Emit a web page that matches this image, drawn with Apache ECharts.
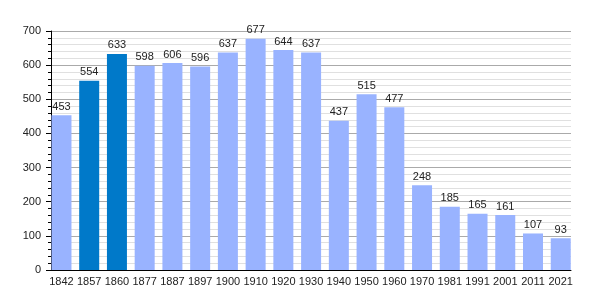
<!DOCTYPE html>
<html><head><meta charset="utf-8">
<script src="https://cdn.jsdelivr.net/npm/echarts@6/dist/echarts.min.js"></script>
<style>html,body{margin:0;padding:0;background:#fff}#c{width:600px;height:300px}</style>
</head><body><div id="c"></div>
<script>
const years = ['1842','1857','1860','1877','1887','1897','1900','1910','1920','1930','1940','1950','1960','1970','1981','1991','2001','2011','2021'];
const population = [453,554,633,598,606,596,637,677,644,637,437,515,477,248,185,165,161,107,93];
const highlighted = ['1857','1860'];
const yTicks = [0,100,200,300,400,500,600,700];

const font = 'Liberation Sans, Arial, sans-serif';
const chart = echarts.init(document.getElementById('c'));
chart.setOption({
  animation: false,
  grid: [
    {left: 47.6, right: 25.4, top: 31, bottom: 30},
    {left: 51, right: 29, top: 31, bottom: 30}
  ],
  xAxis: [{
    gridIndex: 0, type: 'category', data: years,
    axisLine: {show: false},
    axisTick: {show: false},
    splitLine: {show: false},
    axisLabel: {color: '#222', fontFamily: font, fontSize: 11, margin: 6, interval: 0}
  }, {
    gridIndex: 1, type: 'value', min: 0, max: 1,
    axisLine: {show: true, onZero: false, lineStyle: {color: '#000', width: 1}},
    axisTick: {show: false}, axisLabel: {show: false}, splitLine: {show: false}
  }],
  yAxis: [{
    gridIndex: 0, type: 'value', min: yTicks[0], max: yTicks[yTicks.length-1], interval: 100,
    show: false, splitLine: {show: false}
  }, {
    gridIndex: 1, type: 'value', min: yTicks[0], max: yTicks[yTicks.length-1], interval: 100,
    axisLine: {show: true, onZero: false, lineStyle: {color: '#000'}},
    axisTick: {show: true, length: 5, lineStyle: {color: '#000'}},
    minorTick: {show: true, splitNumber: 5, length: 3, lineStyle: {color: '#000'}},
    splitLine: {show: true, lineStyle: {color: '#aaaaaa', width: 1}},
    minorSplitLine: {show: true, lineStyle: {color: '#e0e0e0', width: 1}},
    axisLabel: {color: '#222', fontFamily: font, fontSize: 11, margin: 10}
  }],
  series: [{
    type: 'bar', xAxisIndex: 0, yAxisIndex: 0,
    data: population.map((v, i) => ({value: v, itemStyle: {color: highlighted.includes(years[i]) ? '#0079C9' : '#99B3FF'}})),
    barWidth: 20,
    label: {show: true, position: 'top', distance: 3, color: '#222', fontFamily: font, fontSize: 11}
  }]
});
</script></body></html>
